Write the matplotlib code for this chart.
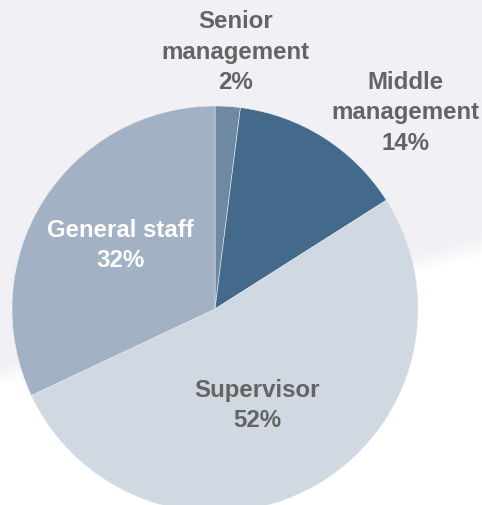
import numpy as np
import matplotlib
matplotlib.use("Agg")
import matplotlib.pyplot as plt

plt.rcParams["font.family"] = ["Liberation Sans", "DejaVu Sans"]

categories = ["Senior\nmanagement", "Middle\nmanagement", "Supervisor", "General staff"]
shares = [2, 14, 52, 32]
colors = ["#6f89a3", "#436a8b", "#d0d8e2", "#a2b1c4"]
text_colors = ["#646464", "#646464", "#646464", "#ffffff"]

W, H = 482, 505
fig = plt.figure(figsize=(W / 100, H / 100), dpi=100)

# soft grey backdrop with a slanted edge fading to white
bg = fig.add_axes([0, 0, 1, 1])
xx, yy = np.meshgrid(np.arange(W), np.arange(H))
edge = 375 - (375 - 245) * xx / W
t = np.clip((yy - edge) / 22 + 0.5, 0, 1)
grey = np.array([241, 241, 245]) / 255
white = np.array([1.0, 1.0, 1.0])
img = grey[None, None, :] * (1 - t[..., None]) + white[None, None, :] * t[..., None]
bg.imshow(img, extent=(0, W, H, 0), aspect="auto")
bg.axis("off")

# pie axes in pixel units, origin bottom-left
ax = fig.add_axes([0, 0, 1, 1])
ax.patch.set_alpha(0)

cx, cy, r = 215, H - 309, 203
wedges, _ = ax.pie(shares, colors=colors, startangle=90, counterclock=False,
                   center=(cx, cy), radius=r, frame=True,
                   wedgeprops=dict(edgecolor="#e8ecf1", linewidth=0.4))
ax.set_xlim(0, W)
ax.set_ylim(0, H)
ax.set_aspect("equal")
ax.axis("off")

# label placement: (distance as fraction of radius, angle shift in degrees)
placement = [(1.27, -1.0), (1.345, -11.7), (0.52, -5.4), (0.56, -1.6)]
for w, name, val, tc, (d, shift) in zip(wedges, categories, shares, text_colors, placement):
    ang = np.deg2rad((w.theta1 + w.theta2) / 2 + shift)
    x = cx + d * r * np.cos(ang)
    y = cy + d * r * np.sin(ang)
    ax.text(x, y, f"{name}\n{val}%", ha="center", va="center", fontsize=17.3,
            fontweight="bold", color=tc, linespacing=1.4)

fig.savefig("out.png", dpi=100)
